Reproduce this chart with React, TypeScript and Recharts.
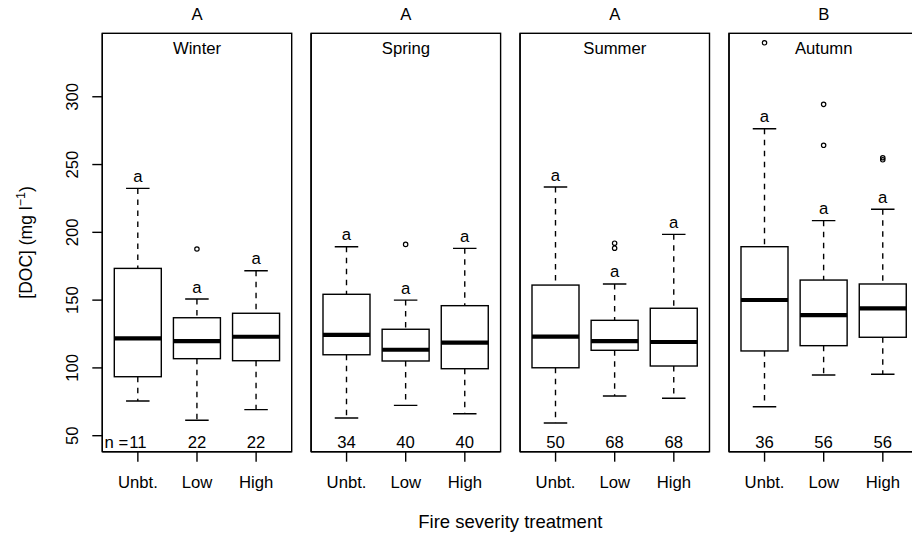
import { ComposedChart, Bar, XAxis, YAxis } from 'recharts';

const seasons = ['Winter', 'Spring', 'Summer', 'Autumn'];
const seasonLetters = ['A', 'A', 'A', 'B'];
const treatments = ['Unbt.', 'Low', 'High'];

// per season: [Unbt., Low, High]
const whiskerLow = [[75.6, 61.4, 69.2], [63.1, 72.4, 66.2], [59.4, 79.3, 77.6], [71.4, 94.8, 95.3]];
const quartile1 = [[93.5, 106.8, 105.3], [109.7, 105.1, 99.4], [100.1, 113, 101.4], [112.5, 116.4, 122.6]];
const medians = [[121.8, 119.8, 123], [124.3, 113.4, 118.6], [123, 119.8, 119.1], [150.1, 139, 143.9]];
const quartile3 = [[173.4, 137, 140.3], [154.3, 128.5, 145.9], [161.1, 135.1, 144], [189.4, 164.8, 161.9]];
const whiskerHigh = [[232.4, 150.8, 171.7], [189.4, 150, 188.2], [233.4, 161.9, 198.5], [276.4, 208.6, 217]];
const outliers = [
  [[], [187.7], []],
  [[], [191.1], []],
  [[], [188.3, 192], []],
  [[339.8], [264.2, 294.4], [253.5, 255]],
];
const sampleSizes = [[11, 22, 22], [34, 40, 40], [50, 68, 68], [36, 56, 56]];
const groupLetters = [['a', 'a', 'a'], ['a', 'a', 'a'], ['a', 'a', 'a'], ['a', 'a', 'a']];
const yTicks = [50, 100, 150, 200, 250, 300];

const FONT = '"Liberation Sans", Arial, Helvetica, sans-serif';
const FS = 16.7;
const PANEL_W = 189.4;
const PANEL_GAP = 208.9;
const FIRST_LEFT = 102.3;
const TOP = 33.3;
const BOTTOM = 451.7;
const H = 533;
const Y_DOMAIN = [38.2, 346.8];
const N_LEVEL = 41.2;

function BoxShape(props: any) {
  const { x, y, width, height, payload } = props;
  const top = Math.min(y, y + height);
  const h = Math.abs(height);
  const [lo, hi] = payload.range;
  const py = (v: number) => top + (h * (hi - v)) / (hi - lo);
  const cx = x + width / 2;
  const cap = width / 4;
  const sw = 1.4;
  return (
    <g fontFamily={FONT} fontSize={FS}>
      <line x1={cx} x2={cx} y1={py(hi)} y2={py(payload.q3)} stroke="#000" strokeWidth={sw} strokeDasharray="5.5 5.5" />
      <line x1={cx} x2={cx} y1={py(payload.q1)} y2={py(lo)} stroke="#000" strokeWidth={sw} strokeDasharray="5.5 5.5" />
      <line x1={cx - cap} x2={cx + cap} y1={py(hi)} y2={py(hi)} stroke="#000" strokeWidth={sw} />
      <line x1={cx - cap} x2={cx + cap} y1={py(lo)} y2={py(lo)} stroke="#000" strokeWidth={sw} />
      <rect x={x} y={py(payload.q3)} width={width} height={py(payload.q1) - py(payload.q3)} fill="#fff" stroke="#000" strokeWidth={sw} />
      <line x1={x} x2={x + width} y1={py(payload.median)} y2={py(payload.median)} stroke="#000" strokeWidth={4.2} />
      {payload.outliers.map((v: number, i: number) => (
        <circle key={i} cx={cx} cy={py(v)} r={2.2} fill="none" stroke="#000" strokeWidth={1.2} />
      ))}
      <text x={cx} y={py(hi) - 6.5} textAnchor="middle" fill="#000">{payload.letter}</text>
      <text x={cx} y={py(N_LEVEL)} textAnchor="middle" fill="#000">{payload.n}</text>
      {payload.nPrefix && (
        <text x={cx - 9.5} y={py(N_LEVEL)} textAnchor="end" fill="#000">{payload.nPrefix}</text>
      )}
    </g>
  );
}

const XTick = ({ x, y, payload }: any) => (
  <text x={x} y={y + 24.6} textAnchor="middle" fontFamily={FONT} fontSize={FS} fill="#000">
    {payload.value}
  </text>
);

const YTick = ({ x, y, payload }: any) => {
  const bx = x - 12.6;
  return (
    <text x={bx} y={y} transform={`rotate(-90, ${bx}, ${y})`} textAnchor="middle" fontFamily={FONT} fontSize={FS} fill="#000">
      {payload.value}
    </text>
  );
};

function Panel({ s }: { s: number }) {
  const yW = s === 0 ? FIRST_LEFT : 10;
  const left = FIRST_LEFT + s * PANEL_GAP - yW;
  const rows = treatments.map((t, g) => ({
    group: t,
    range: [whiskerLow[s][g], whiskerHigh[s][g]],
    q1: quartile1[s][g],
    median: medians[s][g],
    q3: quartile3[s][g],
    outliers: outliers[s][g],
    n: sampleSizes[s][g],
    letter: groupLetters[s][g],
    nPrefix: s === 0 && g === 0 ? 'n =' : '',
  }));
  const axisLine = { stroke: '#000', strokeWidth: 1.4 };
  return (
    <div style={{ position: 'absolute', left, top: 0 }}>
      <ComposedChart width={yW + PANEL_W + 2} height={H} data={rows} margin={{ top: TOP, right: 2, bottom: 0, left: 0 }}>
        <XAxis dataKey="group" height={H - BOTTOM} tickSize={10} axisLine={axisLine} tickLine={axisLine}
          tick={<XTick />} padding={{ left: 6, right: 6 }} interval={0} />
        <YAxis type="number" domain={Y_DOMAIN} allowDataOverflow ticks={yTicks} width={yW} tickSize={10}
          axisLine={axisLine} tickLine={axisLine} tick={s === 0 ? <YTick /> : false} />
        <Bar dataKey="range" barSize={47} shape={BoxShape} isAnimationActive={false} />
      </ComposedChart>
    </div>
  );
}

export default function App() {
  return (
    <div style={{ position: 'fixed', left: 0, top: 0, width: 912, height: H, overflow: 'hidden', background: '#fff' }}>
      {seasons.map((_, s) => <Panel key={s} s={s} />)}
      <svg width={912} height={H} style={{ position: 'absolute', left: 0, top: 0, pointerEvents: 'none' }}
        fontFamily={FONT} fill="#000">
        {seasons.map((name, s) => {
          const l = FIRST_LEFT + s * PANEL_GAP;
          const c = l + PANEL_W / 2;
          return (
            <g key={name}>
              <rect x={l} y={TOP} width={PANEL_W} height={BOTTOM - TOP} fill="none" stroke="#000" strokeWidth={1.4} />
              <text x={c} y={20} textAnchor="middle" fontSize={FS}>{seasonLetters[s]}</text>
              <text x={c} y={54.3} textAnchor="middle" fontSize={FS}>{name}</text>
            </g>
          );
        })}
        <text x={510.3} y={528} textAnchor="middle" fontSize={18.5}>Fire severity treatment</text>
        <text x={32} y={(TOP + BOTTOM) / 2} transform={`rotate(-90, 32, ${(TOP + BOTTOM) / 2})`} textAnchor="middle" fontSize={17.5}>
          [DOC] (mg l<tspan dy={-7} fontSize={12.5}>−1</tspan><tspan dy={7}>)</tspan>
        </text>
      </svg>
    </div>
  );
}
